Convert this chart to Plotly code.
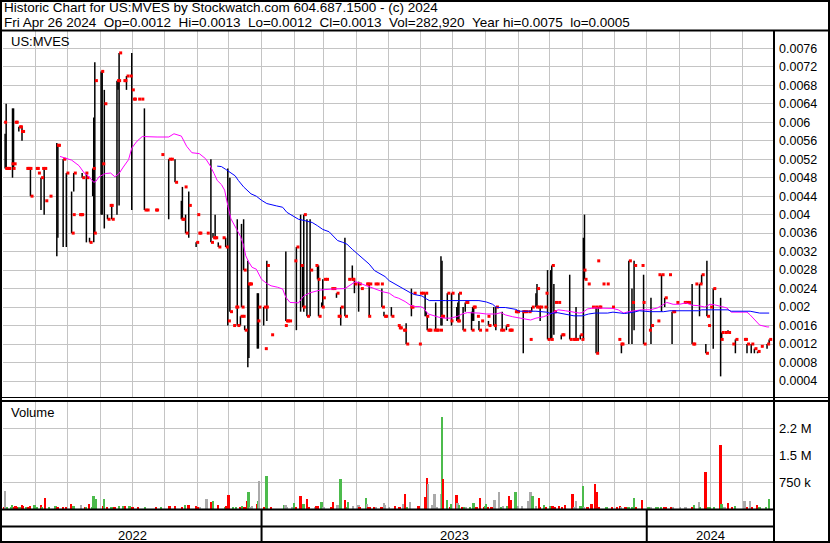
import plotly.graph_objects as go
import pandas as pd

W, H = 830, 543
FONT = "Liberation Sans, Arial, sans-serif"

# ---------------- DATA ----------------
bar_dates = [
    "2022-05-02", "2022-05-03", "2022-05-04", "2022-05-05", "2022-05-06", "2022-05-09", "2022-05-10", "2022-05-11", "2022-05-12", "2022-05-13", "2022-05-16", "2022-05-17", "2022-05-18", "2022-05-19", "2022-05-23", "2022-05-24", "2022-05-25", "2022-05-26", "2022-05-27",
    "2022-06-01", "2022-06-02", "2022-06-03", "2022-06-06", "2022-06-07", "2022-06-09", "2022-06-10", "2022-06-14", "2022-06-21", "2022-06-22", "2022-06-27", "2022-06-30",
    "2022-07-05", "2022-07-06", "2022-07-07", "2022-07-12", "2022-07-13", "2022-07-14", "2022-07-15", "2022-07-18", "2022-07-19", "2022-07-22", "2022-07-25", "2022-07-26", "2022-07-27",
    "2022-08-02", "2022-08-03", "2022-08-05", "2022-08-08", "2022-08-10", "2022-08-11", "2022-08-12", "2022-08-17", "2022-08-18", "2022-08-19", "2022-08-23", "2022-08-24", "2022-08-26", "2022-08-29", "2022-08-31",
    "2022-09-01", "2022-09-02", "2022-09-06", "2022-09-09", "2022-09-12", "2022-09-14", "2022-09-22", "2022-09-23", "2022-09-28",
    "2022-10-05", "2022-10-07", "2022-10-11", "2022-10-17", "2022-10-18", "2022-10-20", "2022-10-21", "2022-10-24", "2022-10-31",
    "2022-11-01", "2022-11-02", "2022-11-03", "2022-11-10", "2022-11-14", "2022-11-16", "2022-11-17", "2022-11-18", "2022-11-21", "2022-11-25", "2022-11-28", "2022-11-30",
    "2022-12-02", "2022-12-05", "2022-12-07", "2022-12-08", "2022-12-09", "2022-12-12", "2022-12-13", "2022-12-14", "2022-12-15", "2022-12-16", "2022-12-19", "2022-12-20", "2022-12-21", "2022-12-28", "2022-12-29",
    "2023-01-03", "2023-01-04", "2023-01-05", "2023-01-06", "2023-01-10", "2023-01-23", "2023-01-24", "2023-01-25", "2023-01-27",
    "2023-02-01", "2023-02-03", "2023-02-07", "2023-02-09", "2023-02-10", "2023-02-13", "2023-02-16", "2023-02-21", "2023-02-23", "2023-02-24", "2023-02-27", "2023-02-28",
    "2023-03-01", "2023-03-03", "2023-03-08", "2023-03-10", "2023-03-13", "2023-03-14", "2023-03-15", "2023-03-17", "2023-03-21", "2023-03-24", "2023-03-27", "2023-03-28", "2023-03-30",
    "2023-04-03", "2023-04-05", "2023-04-10", "2023-04-11", "2023-04-12", "2023-04-13", "2023-04-18", "2023-04-20", "2023-04-24", "2023-04-25", "2023-04-27", "2023-04-28",
    "2023-05-04", "2023-05-10", "2023-05-11", "2023-05-12", "2023-05-15", "2023-05-16", "2023-05-18", "2023-05-22", "2023-05-23", "2023-05-25", "2023-05-30", "2023-05-31",
    "2023-06-02", "2023-06-05", "2023-06-06", "2023-06-07", "2023-06-08", "2023-06-09", "2023-06-13", "2023-06-15", "2023-06-16", "2023-06-19", "2023-06-20", "2023-06-21", "2023-06-26", "2023-06-29", "2023-06-30",
    "2023-07-05", "2023-07-06", "2023-07-07", "2023-07-11", "2023-07-13", "2023-07-14", "2023-07-19", "2023-07-20", "2023-07-21", "2023-07-24", "2023-07-26", "2023-07-28",
    "2023-08-01", "2023-08-03", "2023-08-04", "2023-08-09", "2023-08-11", "2023-08-15", "2023-08-17", "2023-08-21", "2023-08-23", "2023-08-24", "2023-08-25", "2023-08-29", "2023-08-30", "2023-08-31",
    "2023-09-05", "2023-09-06", "2023-09-08", "2023-09-11", "2023-09-12", "2023-09-14", "2023-09-18", "2023-09-19", "2023-09-20", "2023-09-22", "2023-09-26", "2023-09-27", "2023-09-29",
    "2023-10-02", "2023-10-03", "2023-10-05", "2023-10-06", "2023-10-09", "2023-10-12", "2023-10-13", "2023-10-20", "2023-10-23", "2023-10-24", "2023-10-26", "2023-10-30", "2023-10-31",
    "2023-11-02", "2023-11-03", "2023-11-06", "2023-11-10", "2023-11-13", "2023-11-14", "2023-11-15", "2023-11-16", "2023-11-17", "2023-11-20", "2023-11-24", "2023-11-29",
    "2023-12-05", "2023-12-07", "2023-12-08", "2023-12-15", "2023-12-18", "2023-12-20", "2023-12-27", "2023-12-28", "2023-12-29",
    "2024-01-03", "2024-01-05", "2024-01-11", "2024-01-12", "2024-01-15", "2024-01-18", "2024-01-22", "2024-01-25", "2024-01-26", "2024-01-29",
    "2024-02-05", "2024-02-07", "2024-02-09", "2024-02-13", "2024-02-14", "2024-02-16", "2024-02-20", "2024-02-22", "2024-02-26", "2024-02-27", "2024-02-28",
    "2024-03-01", "2024-03-04", "2024-03-11", "2024-03-12", "2024-03-15", "2024-03-18", "2024-03-22", "2024-03-25",
    "2024-04-02", "2024-04-03", "2024-04-05", "2024-04-09", "2024-04-12", "2024-04-15", "2024-04-18", "2024-04-24", "2024-04-26",
]
bar_high = [
    .0060, .00575, .0064, .0050, .0050, .0051, .0063, .0063, .0060, .0060, .0059, .0059, .0058, .0059, .0050, .0050, .0050, .0050, .0050,
    .0050, .0050, .0049, .0048, .0050, .0050, .0043, .0044, .00555, .0055, .0052, .0049,
    .0045, .0040, .0049, .0040, .0040, .0040, .0049, .0049, .0049, .0035, .0050, .0061, .0073,
    .0071, .0071, .0067, .0040, .0042, .0042, .0042, .0069, .0069, .0075, .0069, .0069, .0070, .0070, .0075,
    .0065, .0065, .0065, .0065, .0063, .0041, .0041, .0041, .0053,
    .0052, .0052, .0052, .0043, .0046, .0046, .0040, .0045, .0034,
    .0040, .0036, .0036, .0036, .0052, .0036, .0035, .0040, .0034, .0035, .0035, .0050,
    .0048, .0016, .0020, .0020, .0039, .0018, .0038, .0018, .0039, .0016, .0030, .0025, .0025, .0023, .0023,
    .0020, .0011, .0020, .0030, .0014, .0016, .0032, .0017, .0017,
    .0030, .0033, .0040, .0029, .0040, .0039, .0039, .0029, .0029, .0029, .0021, .0026,
    .0026, .0026, .0024, .0024, .0023, .0018, .0018, .0020, .0035, .0026, .0026, .0029, .0026,
    .00255, .0024, .0025, .0025, .0018, .0025, .0025, .0025, .0025, .0024, .0019, .0018,
    .0020, .0016, .00155, .00155, .0015, .0015, .00165, .0020, .0024, .0023, .0012, .0023,
    .0023, .0023, .0019, .0018, .0015, .0015, .0015, .0021, .0015, .0015, .0031, .0030, .0023, .0017, .0023,
    .0020, .0021, .0023, .0020, .0021, .0021, .0019, .0020, .0020, .0018, .0017, .0017,
    .0015, .0018, .0017, .0020, .0020, .0015, .0019, .0016, .0015, .0015, .0015, .0019, .0019, .0019,
    .0019, .0019, .0019, .0019, .0013, .0020, .0023, .0025, .0020, .0020, .0020, .0023, .0028,
    .0028, .0029, .0025, .0021, .0021, .0014, .0014, .0027, .0013, .0013, .0020, .0014, .0013,
    .0035, .0040, .0025, .0020, .0020, .0020, .0030, .0020, .0020, .0025, .0025, .0020,
    .0013, .0012, .0012, .0030, .0024, .0030, .0029, .0021, .0027,
    .0015, .0022, .0017, .0027, .0027, .0022, .0027, .0019, .0019, .0021,
    .0021, .0021, .0021, .0025, .0012, .0025, .0025, .0027, .0012, .0030, .0016,
    .0020, .0024, .0022, .00145, .00145, .0015, .0012, .0013,
    .0013, .0013, .0012, .0012, .0011, .00104, .00115, .0012, .0013,
]
bar_low = [
    .0060, .0050, .0050, .0050, .0050, .0051, .0048, .0050, .0060, .0060, .0058, .0059, .0058, .0056, .0050, .0050, .0050, .0050, .0044,
    .0050, .0050, .0049, .0041, .0050, .0040, .0043, .0044, .0031, .0035, .0033, .0033,
    .0036, .0040, .0045, .0040, .0040, .0040, .0048, .0049, .0034, .0034, .0044, .0034, .0036,
    .0040, .0040, .0037, .0039, .0042, .0042, .0039, .0040, .0067, .0042, .0069, .0069, .0067, .0070, .0041,
    .0065, .0065, .0065, .0065, .0041, .0041, .0041, .0041, .0053,
    .0039, .0052, .0047, .0039, .0039, .0046, .0036, .0035, .0033,
    .0040, .0036, .0036, .0036, .0034, .0035, .0035, .0035, .0033, .0035, .0033, .0016,
    .0019, .0016, .0020, .0020, .0016, .0016, .0020, .0018, .0028, .0015, .0007, .0009, .0025, .0011, .0011,
    .0016, .0011, .0020, .0017, .0014, .0016, .0017, .0017, .0017,
    .0030, .0015, .0019, .0020, .0019, .0018, .0018, .0029, .0026, .0018, .0020, .0020,
    .0026, .0026, .0024, .0024, .0022, .0018, .0018, .0016, .0018, .0026, .0026, .0026, .0023,
    .0019, .0024, .0025, .0025, .0018, .0018, .0025, .0025, .0025, .0020, .0018, .0018,
    .0018, .0016, .00155, .00155, .0015, .0015, .0012, .0020, .0018, .0023, .0012, .0023,
    .0023, .0018, .0018, .0015, .0015, .0015, .0015, .0015, .0015, .0015, .0016, .0016, .0017, .0017, .0016,
    .0017, .0017, .0017, .0015, .0019, .0021, .0015, .0017, .0017, .0018, .0015, .0017,
    .0015, .0018, .0016, .0016, .0015, .0015, .0015, .0015, .0015, .0015, .0015, .0019, .0019, .0019,
    .0019, .0010, .0019, .0019, .0013, .0019, .0020, .0020, .0020, .0017, .0020, .0023, .0013,
    .0013, .0013, .0014, .0021, .0021, .0013, .0014, .0013, .0013, .0013, .0013, .0013, .0013,
    .0013, .0026, .0025, .0020, .0020, .0010, .0030, .0010, .0020, .0025, .0025, .0020,
    .0013, .0012, .0010, .0012, .0012, .0015, .0029, .0021, .0012,
    .0015, .0012, .0017, .0027, .0019, .0020, .0027, .0012, .0019, .0021,
    .0021, .0021, .0021, .0012, .0012, .0025, .0018, .0025, .0010, .0018, .0016,
    .0020, .0011, .0005, .0013, .00145, .00145, .0012, .0010,
    .0013, .0013, .0010, .0010, .0010, .0010, .00115, .0011, .0012,
]
bar_close = [
    .0060, .0050, .0050, .0050, .0050, .0051, .0050, .0051, .0060, .0060, .0059, .0059, .0058, .0058, .0050, .0050, .0050, .0050, .0044,
    .0050, .0050, .0049, .0048, .0050, .0050, .0043, .0044, .0055, .0055, .0052, .0049,
    .0036, .0040, .0049, .0040, .0040, .0040, .0048, .0049, .0048, .0034, .0050, .0036, .0069,
    .0071, .0051, .0064, .0039, .0042, .0042, .0039, .0069, .0069, .0075, .0069, .0069, .0070, .0070, .0067,
    .0065, .0065, .0065, .0065, .0041, .0041, .0041, .0041, .0053,
    .0052, .0052, .0047, .0039, .0039, .0046, .0036, .0042, .0034,
    .0040, .0036, .0036, .0036, .0034, .0035, .0035, .0035, .0033, .0035, .0033, .0017,
    .0019, .0016, .0020, .0020, .0016, .0018, .0020, .0018, .0028, .0015, .0025, .0025, .0025, .0017, .0020,
    .0020, .0011, .0020, .0029, .0014, .0016, .0017, .0017, .0017,
    .0030, .0033, .0029, .0020, .0040, .0018, .0028, .0029, .0026, .0018, .0020, .0022,
    .0026, .0026, .0024, .0024, .0023, .0018, .0018, .0020, .0018, .0026, .0026, .0026, .0025,
    .0025, .0024, .0025, .0025, .0018, .0025, .0025, .0025, .0025, .0020, .0018, .0018,
    .0018, .0016, .00155, .00155, .0015, .0015, .0012, .0020, .0020, .0023, .0012, .0023,
    .0023, .0023, .0018, .0015, .0015, .0015, .0015, .0015, .0015, .0015, .0018, .0018, .0023, .0017, .0023,
    .0017, .0017, .0023, .0015, .0021, .0021, .0015, .0020, .0020, .0018, .0015, .0017,
    .0015, .0018, .0016, .0016, .0020, .0015, .0015, .0016, .0015, .0015, .0015, .0019, .0019, .0019,
    .0019, .0019, .0019, .0019, .0013, .0020, .0020, .0024, .0020, .0020, .0020, .0023, .0013,
    .0013, .0029, .0019, .0021, .0021, .0014, .0014, .0013, .0013, .0013, .0013, .0014, .0013,
    .0028, .0026, .0025, .0020, .0020, .0010, .0030, .0020, .0020, .0025, .0025, .0020,
    .0013, .0012, .0012, .0030, .0021, .0029, .0029, .0021, .0012,
    .0015, .0016, .0017, .0027, .0027, .0022, .0027, .0019, .0019, .0021,
    .0021, .0021, .0021, .0012, .0012, .0025, .0025, .0027, .0010, .0018, .0016,
    .0020, .0024, .0013, .00145, .00145, .00145, .0012, .0013,
    .0013, .0013, .0012, .0012, .0011, .00104, .00115, .0012, .0013,
]

ma_fast_dates = [
    "2022-06-24", "2022-07-05", "2022-07-12", "2022-07-17", "2022-07-21", "2022-07-26", "2022-07-28", "2022-07-31",
    "2022-08-06", "2022-08-11", "2022-08-15", "2022-08-19", "2022-08-23", "2022-08-28", "2022-08-31",
    "2022-09-05", "2022-09-10", "2022-09-21", "2022-09-24",
    "2022-10-05", "2022-10-10", "2022-10-17", "2022-10-22", "2022-10-27",
    "2022-11-03", "2022-11-09", "2022-11-13", "2022-11-17", "2022-11-20", "2022-11-24", "2022-11-27", "2022-11-30",
    "2022-12-03", "2022-12-08", "2022-12-12", "2022-12-15", "2022-12-17", "2022-12-20", "2022-12-23", "2022-12-27",
    "2023-01-01", "2023-01-06", "2023-01-10", "2023-01-16", "2023-01-21", "2023-01-24", "2023-01-28",
    "2023-02-05", "2023-02-10", "2023-02-16", "2023-02-26",
    "2023-03-09", "2023-03-21", "2023-03-31",
    "2023-04-06", "2023-04-13", "2023-04-19", "2023-04-26",
    "2023-05-02", "2023-05-07", "2023-05-11", "2023-05-17", "2023-05-22", "2023-05-26", "2023-05-31",
    "2023-06-03", "2023-06-08", "2023-06-13", "2023-06-18", "2023-06-23", "2023-06-29",
    "2023-07-06", "2023-07-10", "2023-07-15", "2023-07-20", "2023-07-26",
    "2023-08-02", "2023-08-08", "2023-08-11", "2023-08-16", "2023-08-20", "2023-08-27",
    "2023-09-02", "2023-09-08", "2023-09-13", "2023-09-18", "2023-09-25", "2023-09-30",
    "2023-10-05", "2023-10-09", "2023-10-16", "2023-10-22", "2023-10-29",
    "2023-11-01", "2023-11-06", "2023-11-12", "2023-11-20", "2023-11-30",
    "2023-12-05", "2023-12-10", "2023-12-15", "2023-12-22", "2023-12-27",
    "2024-01-04", "2024-01-11", "2024-01-15", "2024-01-20", "2024-01-26",
    "2024-02-01", "2024-02-07", "2024-02-13", "2024-02-19", "2024-02-25",
    "2024-03-01", "2024-03-05", "2024-03-12", "2024-03-17", "2024-03-21",
    "2024-04-05", "2024-04-08", "2024-04-13", "2024-04-17", "2024-04-24", "2024-04-26",
]
ma_fast_values = [
    .00526, .00518, .00506, .0049, .00483, .0047, .00472, .00482,
    .00489, .0049, .00482, .00489, .00503, .00519, .00544,
    .00559, .00569, .00567, .00568,
    .00568, .00575, .0057, .00548, .00534,
    .00532, .00521, .00507, .00489, .00474, .00465, .00453, .0042,
    .00391, .0037, .00353, .00333, .00311, .00297, .00286, .00282,
    .0026, .00251, .00246, .00243, .00239, .00221, .0021,
    .00209, .00224, .00231, .00237,
    .00239, .0024, .00255,
    .0025, .00243, .00239, .00233,
    .0023, .00222, .00219, .00212, .00204, .00201, .00201,
    .00199, .00185, .00181, .00178, .00176, .00176,
    .0018, .00185, .00188, .00188, .00187,
    .00185, .00185, .00185, .00188, .00183, .00179,
    .00177, .00174, .00172, .00176, .00179, .00183,
    .0019, .00194, .00192, .0019, .00187,
    .00188, .00196, .00198, .00198, .00197,
    .00194, .00187, .0019, .00192, .00194,
    .00194, .00198, .00203, .0021, .00206,
    .00206, .00209, .00204, .00203, .002,
    .00206, .00205, .00201, .00198, .00189,
    .00189, .00183, .00172, .00161, .00157, .00157,
]

ma_slow_dates = [
    "2022-11-20", "2022-11-24", "2022-11-28", "2022-12-02", "2022-12-07", "2022-12-10", "2022-12-15", "2022-12-22", "2022-12-27",
    "2023-01-01", "2023-01-06", "2023-01-15", "2023-01-21", "2023-01-25", "2023-01-30",
    "2023-02-05", "2023-02-11", "2023-02-18", "2023-02-23", "2023-02-28",
    "2023-03-06", "2023-03-09", "2023-03-14", "2023-03-19", "2023-03-23", "2023-03-28",
    "2023-04-02", "2023-04-06", "2023-04-13", "2023-04-18", "2023-04-23", "2023-04-28",
    "2023-05-02", "2023-05-11", "2023-05-17", "2023-05-22", "2023-05-26",
    "2023-06-02", "2023-06-06", "2023-06-09", "2023-06-24",
    "2023-07-18", "2023-07-26",
    "2023-08-02", "2023-08-08", "2023-08-11", "2023-08-14", "2023-08-20", "2023-08-27", "2023-08-30",
    "2023-09-02", "2023-09-18", "2023-09-28",
    "2023-10-02", "2023-10-08", "2023-10-17", "2023-10-24",
    "2023-11-01", "2023-11-07", "2023-11-13", "2023-11-25", "2023-11-30",
    "2023-12-05", "2023-12-11", "2023-12-20", "2023-12-25",
    "2024-01-04", "2024-01-17", "2024-01-23",
    "2024-02-19", "2024-02-22",
    "2024-03-18", "2024-03-21",
    "2024-04-08", "2024-04-17", "2024-04-26",
]
ma_slow_values = [
    .00505, .00504, .00498, .00492, .00484, .00474, .0046, .00445, .0044,
    .00431, .00424, .00419, .00416, .00405, .00398,
    .0039, .00387, .00383, .00376, .00368,
    .00363, .00356, .00344, .0034, .00336, .00325,
    .00315, .00306, .00293, .00279, .00272, .00266,
    .00257, .00245, .00236, .00231, .00227,
    .00224, .00218, .00214, .00214,
    .00214, .00214,
    .00211, .00206, .002, .00199, .00199, .00197, .00195,
    .00191, .00191, .00189,
    .00186, .00188, .00184, .00181,
    .00181, .00185, .00187, .00187, .00189,
    .00187, .00186, .00189, .00192,
    .0019, .0019, .00192,
    .00192, .00194,
    .00194, .00191,
    .00191, .00187, .00187,
]

vol_dates = [
    "2022-05-02", "2022-05-03", "2022-05-05", "2022-05-09", "2022-05-10", "2022-05-12", "2022-05-13", "2022-05-16", "2022-05-17", "2022-05-19", "2022-05-20", "2022-05-23", "2022-05-25", "2022-05-27", "2022-05-31",
    "2022-06-02", "2022-06-06", "2022-06-07", "2022-06-10", "2022-06-14", "2022-06-20", "2022-06-22", "2022-06-27", "2022-06-30",
    "2022-07-05", "2022-07-07", "2022-07-14", "2022-07-18", "2022-07-19", "2022-07-22", "2022-07-25", "2022-07-26", "2022-07-28",
    "2022-08-04", "2022-08-05", "2022-08-08", "2022-08-12", "2022-08-15", "2022-08-19", "2022-08-23", "2022-08-25", "2022-08-29",
    "2022-09-01", "2022-09-06", "2022-09-13", "2022-09-23", "2022-09-28",
    "2022-10-06", "2022-10-11", "2022-10-18", "2022-10-21", "2022-10-24", "2022-10-31",
    "2022-11-02", "2022-11-04", "2022-11-10", "2022-11-14", "2022-11-16", "2022-11-21", "2022-11-28", "2022-11-29",
    "2022-12-01", "2022-12-05", "2022-12-08", "2022-12-12", "2022-12-14", "2022-12-16", "2022-12-19", "2022-12-20", "2022-12-21", "2022-12-23", "2022-12-28", "2022-12-29", "2022-12-30",
    "2023-01-04", "2023-01-06", "2023-01-10", "2023-01-23", "2023-01-24", "2023-01-25", "2023-01-30",
    "2023-02-01", "2023-02-03", "2023-02-07", "2023-02-10", "2023-02-13", "2023-02-15", "2023-02-21", "2023-02-22", "2023-02-24", "2023-02-27",
    "2023-03-01", "2023-03-08", "2023-03-10", "2023-03-14", "2023-03-16", "2023-03-17", "2023-03-21", "2023-03-23", "2023-03-24", "2023-03-29",
    "2023-04-03", "2023-04-04", "2023-04-10", "2023-04-11", "2023-04-12", "2023-04-14", "2023-04-18", "2023-04-20", "2023-04-25", "2023-04-27", "2023-04-28",
    "2023-05-02", "2023-05-08", "2023-05-12", "2023-05-15", "2023-05-17", "2023-05-19", "2023-05-22", "2023-05-30",
    "2023-06-05", "2023-06-06", "2023-06-07", "2023-06-08", "2023-06-12", "2023-06-14", "2023-06-16", "2023-06-20", "2023-06-21", "2023-06-22", "2023-06-26", "2023-06-29", "2023-06-30",
    "2023-07-05", "2023-07-06", "2023-07-07", "2023-07-10", "2023-07-12", "2023-07-14", "2023-07-18", "2023-07-21", "2023-07-24", "2023-07-27", "2023-07-31",
    "2023-08-01", "2023-08-02", "2023-08-04", "2023-08-07", "2023-08-10", "2023-08-14", "2023-08-16", "2023-08-18", "2023-08-22", "2023-08-24", "2023-08-25", "2023-08-30",
    "2023-09-01", "2023-09-05", "2023-09-11", "2023-09-13", "2023-09-15", "2023-09-18", "2023-09-21", "2023-09-22", "2023-09-26", "2023-09-28",
    "2023-10-02", "2023-10-04", "2023-10-06", "2023-10-10", "2023-10-13", "2023-10-16", "2023-10-23", "2023-10-24", "2023-10-26", "2023-10-30", "2023-10-31",
    "2023-11-02", "2023-11-03", "2023-11-06", "2023-11-10", "2023-11-13", "2023-11-15", "2023-11-17", "2023-11-24", "2023-11-29",
    "2023-12-04", "2023-12-07", "2023-12-08", "2023-12-12", "2023-12-15", "2023-12-18", "2023-12-20", "2023-12-22", "2023-12-28",
    "2024-01-03", "2024-01-05", "2024-01-10", "2024-01-12", "2024-01-15", "2024-01-18", "2024-01-19", "2024-01-24", "2024-01-26",
    "2024-02-02", "2024-02-07", "2024-02-13", "2024-02-15", "2024-02-20", "2024-02-21", "2024-02-26", "2024-02-28",
    "2024-03-01", "2024-03-05", "2024-03-11", "2024-03-12", "2024-03-15", "2024-03-18", "2024-03-22", "2024-03-25",
    "2024-04-03", "2024-04-05", "2024-04-08", "2024-04-10", "2024-04-15", "2024-04-17", "2024-04-23", "2024-04-26",
]
vol_values = [
    55000, 510000, 40000, 40000, 120000, 45000, 74000, 45000, 45000, 120000, 93000, 45000, 45000, 74000, 120000,
    45000, 120000, 45000, 315000, 45000, 93000, 45000, 45000, 45000,
    150000, 70000, 120000, 45000, 45000, 150000, 45000, 370000, 287000,
    93000, 287000, 45000, 45000, 45000, 70000, 93000, 70000, 93000,
    55000, 30000, 55000, 30000, 30000,
    74000, 74000, 55000, 120000, 120000, 93000,
    45000, 30000, 287000, 204000, 231000, 120000, 45000, 93000,
    400000, 45000, 45000, 45000, 93000, 45000, 231000, 481000, 55000, 70000, 150000, 231000, 787000,
    55000, 926000, 30000, 120000, 120000, 45000, 45000,
    167000, 45000, 370000, 150000, 287000, 45000, 45000, 70000, 93000, 204000,
    30000, 55000, 204000, 120000, 120000, 843000, 260000, 45000, 204000, 93000,
    120000, 30000, 315000, 140000, 55000, 55000, 55000, 30000, 55000, 167000, 120000,
    30000, 93000, 55000, 140000, 426000, 55000, 204000, 93000,
    343000, 260000, 861000, 704000, 111000, 426000, 55000, 426000, 2570000, 833000, 260000, 30000, 150000,
    400000, 167000, 120000, 55000, 30000, 30000, 30000, 167000, 30000, 315000, 30000,
    74000, 150000, 30000, 30000, 260000, 481000, 55000, 74000, 74000, 370000, 260000, 481000,
    74000, 74000, 231000, 481000, 370000, 93000, 315000, 55000, 111000, 55000,
    74000, 93000, 55000, 93000, 55000, 111000, 426000, 30000, 231000, 74000, 93000,
    648000, 30000, 30000, 150000, 704000, 481000, 30000, 30000, 30000,
    30000, 93000, 30000, 30000, 30000, 30000, 315000, 30000, 260000,
    55000, 30000, 30000, 30000, 30000, 55000, 30000, 55000, 30000,
    30000, 30000, 55000, 111000, 204000, 55000, 1020000, 30000,
    30000, 30000, 1790000, 140000, 30000, 167000, 30000, 74000,
    231000, 55000, 231000, 30000, 111000, 30000, 30000, 282920,
]
# +1 = close up (green), -1 = close down (red), 0 = unchanged (grey)
vol_change = [
    -1, 0, 1, 1, 1, -1, -1, -1, 1, -1, -1, 1, -1, -1, 1,
    1, -1, 1, -1, 1, 1, -1, -1, -1,
    -1, 1, 0, -1, 1, -1, 1, 1, 1,
    -1, 1, -1, 1, -1, 1, 1, -1, 1,
    -1, -1, 1, -1, 1,
    -1, -1, -1, 1, -1, -1,
    -1, 0, 0, -1, 1, -1, 1, -1,
    -1, 1, 1, -1, 1, -1, -1, 1, 0, 0, -1, 1, 0,
    -1, 1, -1, 1, 0, 0, 0,
    1, -1, -1, 1, -1, -1, 0, -1, -1, 1,
    0, -1, -1, 0, 0, 1, -1, 1, 1, 0,
    0, -1, 1, 0, -1, -1, -1, 0, -1, 0, 0,
    0, -1, -1, 0, -1, 1, 0, -1,
    -1, -1, -1, 0, 0, 0, 0, 0, 1, -1, 1, -1, 1,
    -1, 0, 1, -1, 1, 0, 1, 1, -1, -1, -1,
    1, 1, -1, -1, 0, 0, 1, 0, 1, -1, -1, 1,
    0, 0, 0, 0, 1, 0, -1, -1, 1, -1,
    1, -1, -1, -1, -1, -1, -1, 0, 0, 1, 1,
    1, 0, -1, -1, -1, -1, -1, 1, -1,
    -1, -1, 0, -1, 1, 1, 1, -1, -1,
    1, 0, 1, 1, 1, -1, -1, -1, 0,
    0, 0, -1, 1, 0, 1, -1, 1,
    1, 1, -1, 1, 0, -1, -1, 1,
    0, -1, 0, -1, -1, 1, 1, 1,
]

price_tick_values = [0.0004, 0.0008, 0.0012, 0.0016, 0.002, 0.0024, 0.0028, 0.0032, 0.0036, 0.004,
                     0.0044, 0.0048, 0.0052, 0.0056, 0.006, 0.0064, 0.0068, 0.0072, 0.0076]
price_tick_text = ["0.0004", "0.0008", "0.0012", "0.0016", "0.002", "0.0024", "0.0028", "0.0032", "0.0036", "0.004",
                   "0.0044", "0.0048", "0.0052", "0.0056", "0.006", "0.0064", "0.0068", "0.0072", "0.0076"]
vol_tick_values = [750000, 1500000, 2250000]
vol_tick_text = ["750 k", "1.5 M", "2.2 M"]
years = [2022, 2023, 2024]

header_line1 = "Historic Chart for US:MVES by Stockwatch.com 604.687.1500 - (c) 2024"
header_fields = ["Fri Apr 26 2024", "Op=0.0012", "Hi=0.0013", "Lo=0.0012", "Cl=0.0013",
                 "Vol=282,920", "Year hi=0.0075", "lo=0.0005"]
symbol_label = "US:MVES"
volume_label = "Volume"

assert len(bar_dates) == len(bar_high) == len(bar_low) == len(bar_close), (len(bar_dates), len(bar_high), len(bar_low), len(bar_close))
assert len(ma_fast_dates) == len(ma_fast_values)
assert len(ma_slow_dates) == len(ma_slow_values)
assert len(vol_dates) == len(vol_values) == len(vol_change), (len(vol_dates), len(vol_values), len(vol_change))

# ---------------- LAYOUT GEOMETRY (pixels) ----------------
PLOT_L, PLOT_R = 3, 774
PRICE_T, PRICE_B = 31, 397
VOL_T, VOL_B = 402, 509
X_RANGE = ["2022-05-01", "2024-04-30 14:00"]
PRICE_RANGE = [0.0000537, 0.007974]
VOL_RANGE = [0, 2983000]

def fx(px):
    return px / W

def fy(py):
    return 1 - py / H

GRID = "#c4c4c4"

# ---------------- TRACES ----------------
dates = pd.to_datetime(bar_dates)
seg_x, seg_y = [], []
for d, hi, lo in zip(dates, bar_high, bar_low):
    if hi > lo:
        seg_x += [d, d, None]
        seg_y += [lo, hi, None]

fig = go.Figure()
fig.add_trace(go.Scatter(x=seg_x, y=seg_y, mode="lines", line=dict(color="black", width=1.5),
                         hoverinfo="skip", xaxis="x", yaxis="y"))
fig.add_trace(go.Scatter(x=dates + pd.Timedelta(hours=36), y=bar_close, mode="markers",
                         marker=dict(symbol="square", size=3, color="#ff0000", line=dict(width=0)),
                         xaxis="x", yaxis="y"))
fig.add_trace(go.Scatter(x=pd.to_datetime(ma_fast_dates), y=ma_fast_values, mode="lines",
                         line=dict(color="#ff00ff", width=1), xaxis="x", yaxis="y"))
fig.add_trace(go.Scatter(x=pd.to_datetime(ma_slow_dates), y=ma_slow_values, mode="lines",
                         line=dict(color="#0000ff", width=1), xaxis="x", yaxis="y"))

color_map = {1: "#4cbb4c", -1: "#ff0000", 0: "#aaaaaa"}
fig.add_trace(go.Bar(x=pd.to_datetime(vol_dates), y=vol_values,
                     marker=dict(color=[color_map[c] for c in vol_change], line=dict(width=0)),
                     width=1.7 * 86400000, xaxis="x2", yaxis="y2"))

axis_font = dict(family=FONT, size=12.5, color="black")
common_x = dict(type="date", range=X_RANGE, domain=[fx(PLOT_L), fx(PLOT_R)], showgrid=True,
                gridcolor=GRID, gridwidth=1, tick0="2022-05-01", dtick="M1",
                showticklabels=False, ticks="", zeroline=False, showline=False)
fig.update_layout(
    width=W, height=H, margin=dict(l=0, r=0, t=0, b=0),
    paper_bgcolor="white", plot_bgcolor="white", showlegend=False, bargap=0,
    xaxis=dict(anchor="y", **common_x),
    xaxis2=dict(anchor="y2", matches="x", **common_x),
    yaxis=dict(domain=[fy(PRICE_B), fy(PRICE_T)], range=PRICE_RANGE, side="right", anchor="x",
               tickmode="array", tickvals=price_tick_values, ticktext=price_tick_text,
               showgrid=True, gridcolor=GRID, gridwidth=1, zeroline=False, showline=False,
               ticks="", ticklabelstandoff=4, tickfont=axis_font),
    yaxis2=dict(domain=[fy(VOL_B), fy(VOL_T)], range=VOL_RANGE, side="right", anchor="x2",
                tickmode="array", tickvals=vol_tick_values, ticktext=vol_tick_text,
                showgrid=True, gridcolor=GRID, gridwidth=1, zeroline=False, showline=False,
                ticks="", ticklabelstandoff=4, tickfont=dict(family=FONT, size=13, color="black")),
)

# ---------------- TEXT ----------------
txt_font = dict(family=FONT, size=13, color="black")
head_font = dict(family=FONT, size=13.5, color="black")
ann = []
ann.append(dict(text=header_line1, x=fx(2), y=fy(8), xref="paper", yref="paper",
                xanchor="left", yanchor="middle", showarrow=False, font=head_font))
ann.append(dict(text="\u00a0\u00a0".join(header_fields), x=fx(2), y=fy(22), xref="paper", yref="paper",
                xanchor="left", yanchor="middle", showarrow=False, font=head_font))
ann.append(dict(text=symbol_label, x=fx(9), y=fy(41), xref="paper", yref="paper",
                xanchor="left", yanchor="middle", showarrow=False, font=txt_font))
ann.append(dict(text=volume_label, x=fx(9), y=fy(413), xref="paper", yref="paper",
                xanchor="left", yanchor="middle", showarrow=False, font=txt_font))
rng0, rng1 = pd.Timestamp(X_RANGE[0]), pd.Timestamp(X_RANGE[1])
for yr in years:
    s = max(pd.Timestamp(f"{yr}-01-01"), rng0)
    e = min(pd.Timestamp(f"{yr + 1}-01-01"), rng1)
    ann.append(dict(text=str(yr), x=s + (e - s) / 2, y=fy(535), xref="x", yref="paper",
                    xanchor="center", yanchor="middle", showarrow=False, font=txt_font))
fig.update_layout(annotations=ann)

# ---------------- FRAME LINES ----------------
def hline(py, x0, x1, w):
    return dict(type="line", xref="paper", yref="paper", x0=fx(x0), x1=fx(x1), y0=fy(py), y1=fy(py),
                line=dict(color="black", width=w))

def vline(px, y0, y1, w):
    return dict(type="line", xref="paper", yref="paper", x0=fx(px), x1=fx(px), y0=fy(y0), y1=fy(y1),
                line=dict(color="black", width=w))

shapes = [
    dict(type="rect", xref="paper", yref="paper", x0=fx(1), x1=fx(829), y0=fy(542), y1=fy(1),
         line=dict(color="black", width=2)),
    hline(30.5, 0, 830, 2),
    vline(774, 31, 543, 2),
    hline(397.5, 0, 830, 1),
    hline(401, 0, 830, 2),
    hline(509.5, 0, 774, 2),
    hline(526.5, 0, 774, 2),
]
for yr in years[1:]:
    shapes.append(dict(type="line", xref="x", yref="paper", x0=f"{yr}-01-01", x1=f"{yr}-01-01",
                       y0=fy(509), y1=fy(542), line=dict(color="black", width=2)))
fig.update_layout(shapes=shapes)

fig.write_html("out.html", config={"displayModeBar": False},
               post_script="document.body.style.margin='0';document.body.style.overflow='hidden';")
